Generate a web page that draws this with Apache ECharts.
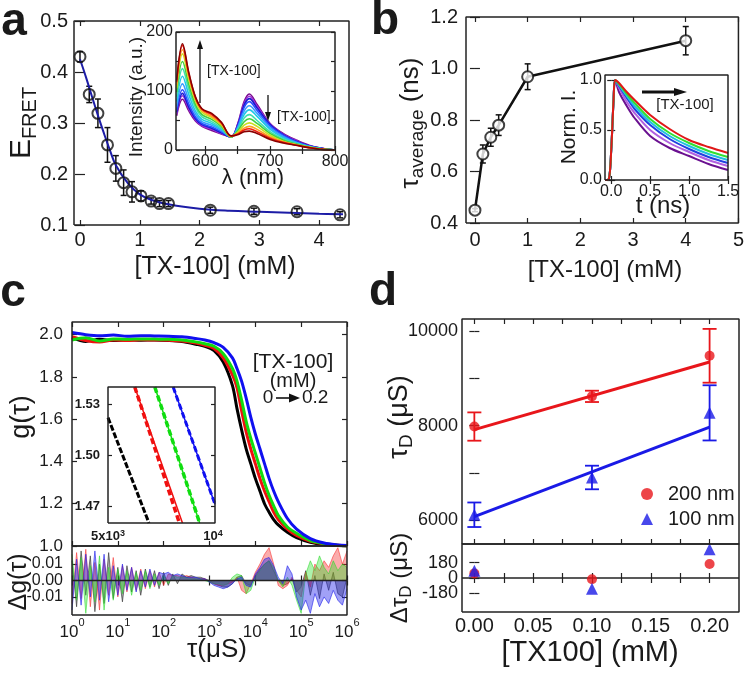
<!DOCTYPE html>
<html><head><meta charset="utf-8">
<script src="https://cdn.jsdelivr.net/npm/echarts@6/dist/echarts.min.js"></script>
<style>html,body{margin:0;padding:0;background:#fff}#c{width:747px;height:675px}</style>
</head><body><div id="c"></div><script>
// ---------------- Panel a ----------------
const aConc = [0,0.155,0.30,0.46,0.60,0.73,0.87,1.02,1.19,1.33,1.48,2.18,2.91,3.63,4.35];
const aEfret = [0.430,0.356,0.319,0.257,0.211,0.183,0.165,0.157,0.147,0.142,0.142,0.129,0.127,0.126,0.120];
const aErr = [0.010,0.016,0.028,0.034,0.025,0.025,0.020,0.010,0.006,0.006,0.006,0.006,0.006,0.006,0.006];
const aFitX = [0,0.1,0.2,0.3,0.4,0.5,0.6,0.8,1.0,1.2,1.5,2,2.5,3,3.5,4,4.4];
const aFitY = [0.425,0.39,0.352,0.315,0.28,0.247,0.217,0.182,0.160,0.149,0.140,0.132,0.128,0.126,0.124,0.122,0.121];
const aTicksX = [0,1,2,3,4];
const aTicksY = [0.1,0.2,0.3,0.4,0.5];
const specWl = [556,565,575,585,595,610,625,640,650,660,668,680,700,720,740,760,780,800];
const specPurple   = [58,86,66,49,40,33,27,22,44,82,95,77,45,28,17,8,3,0];
const specViolet   = [61,92,69,51,41,35,28,22,43,79,91,74,44,27,16,7,3,0];
const specDarkBlue = [64,96,72,53,43,37,29,22,42,76,87,71,43,26,15,7,3,0];
const specBlue     = [68,102,77,56,45,39,31,22,40,72,82,67,41,25,14,7,2,0];
const specSky      = [74,112,84,61,48,42,33,22,38,66,75,62,38,23,13,6,2,0];
const specCyan     = [82,125,93,66,52,45,35,22,36,60,68,57,35,21,12,6,2,0];
const specAqua     = [90,138,102,72,56,48,37,22,34,54,60,50,31,19,11,5,2,0];
const specGreen    = [98,150,110,77,60,52,40,22,32,48,53,45,28,17,10,5,2,0];
const specYellow   = [105,163,119,83,64,55,42,23,30,42,46,40,25,15,9,5,1,0];
const specOrange   = [110,170,124,86,67,57,44,23,28,37,40,35,22,14,9,4,1,0];
const specRed      = [115,177,128,89,69,60,46,24,27,34,36,31,20,13,8,4,1,0];
const specDarkRed  = [118,180,130,90,70,62,47,24,26,31,32,28,18,12,8,4,1,0];
const specSeries = [specPurple,specViolet,specDarkBlue,specBlue,specSky,specCyan,specAqua,specGreen,specYellow,specOrange,specRed,specDarkRed];
const specColors = ['#7a0a8c','#9b30d8','#1a1acc','#2a4cff','#3a9cff','#20c8e8','#40e0b0','#40d040','#c8e020','#ffa020','#f02010','#8a0000'];
// ---------------- Panel b ----------------
const bConc = [0,0.15,0.3,0.45,1,4];
const bTau = [0.450,0.668,0.733,0.780,0.968,1.108];
const bErr = [0.006,0.035,0.035,0.040,0.050,0.055];
const bTicksX = [0,1,2,3,4,5];
const bTicksY = [0.4,0.6,0.8,1.0,1.2];
const decayT = [-0.08,-0.03,0,0.03,0.05,0.1,0.2,0.3,0.5,0.75,1.0,1.25,1.5];
const decayPurple = [0,0.01,0.3,0.8,1.0,0.88,0.74,0.62,0.44,0.32,0.24,0.16,0.10];
const decayViolet = [0,0.01,0.3,0.8,1.0,0.92,0.78,0.67,0.50,0.37,0.28,0.20,0.14];
const decayBlue   = [0,0.01,0.3,0.8,1.0,0.94,0.82,0.71,0.55,0.41,0.31,0.23,0.17];
const decayCyan   = [0,0.01,0.3,0.8,1.0,0.95,0.84,0.74,0.58,0.44,0.34,0.26,0.20];
const decayGreen  = [0,0.01,0.3,0.8,1.0,0.96,0.86,0.77,0.61,0.47,0.37,0.29,0.23];
const decayRed    = [0,0.01,0.3,0.8,1.0,0.97,0.88,0.80,0.65,0.51,0.40,0.33,0.27];
const decaySeries = [decayPurple,decayViolet,decayBlue,decayCyan,decayGreen,decayRed];
const decayColors = ['#6a1090','#b060e0','#2040e0','#20c0e0','#30e030','#e01818'];
// ---------------- Panel c ----------------
const cTau = [1,2,4,8,16,32,63,126,251,501,794,1259,1995,3162,3981,5012,6310,7943,10000,12589,15849,19953,25119,31623,50119,79433,158489,316228,630957,1000000];
const cBlack = [1.985,1.968,1.978,1.972,1.976,1.974,1.975,1.973,1.968,1.955,1.945,1.925,1.87,1.76,1.65,1.55,1.46,1.39,1.32,1.26,1.20,1.16,1.125,1.10,1.065,1.04,1.018,1.007,1.002,1.0];
const cRed   = [1.99,1.972,1.965,1.975,1.972,1.976,1.975,1.974,1.97,1.96,1.95,1.935,1.89,1.81,1.75,1.64,1.54,1.46,1.39,1.32,1.26,1.21,1.16,1.125,1.08,1.05,1.022,1.01,1.004,1.0];
const cGreen = [1.975,1.985,1.97,1.98,1.978,1.98,1.979,1.978,1.975,1.966,1.957,1.945,1.91,1.84,1.78,1.69,1.59,1.51,1.44,1.37,1.30,1.24,1.19,1.145,1.09,1.06,1.026,1.012,1.004,1.0];
const cBlue  = [2.01,2.0,1.995,1.998,1.993,1.995,1.994,1.993,1.99,1.982,1.975,1.962,1.94,1.89,1.84,1.78,1.70,1.61,1.53,1.46,1.39,1.32,1.26,1.21,1.13,1.08,1.035,1.014,1.005,1.002];
const cTicksY = [1.0,1.2,1.4,1.6,1.8,2.0];
const ciBlackData = [[5000,1.522],[6520,1.46]];
const ciRedData   = [[5946,1.54],[7940,1.46]];
const ciRedFit    = [[5946,1.54],[8100,1.46]];
const ciGreenData = [[6771,1.54],[9055,1.46]];
const ciBlueData  = [[7627,1.54],[10000,1.471]];
const ciTicksY = [1.47,1.50,1.53];
const cResTau = [1,1.26,1.58,2,2.51,3.16,3.98,5.01,6.31,7.94,10,12.6,15.8,20,25.1,31.6,39.8,50.1,63.1,79.4,100,126,158,200,251,316,398,501,631,794,1000,1259,1585,1995,2512,3162,3981,5012,6310,7943,10000,12589,15849,19953,25119,31623,39811,50119,63096,79433,100000,125893,158489,199526,251189,316228,398107,501187,630957,794328,1000000];
const cResBlack = [0.012,-0.016,0.018,-0.009,0.015,-0.019,0.010,-0.014,0.017,-0.011, 0.008,-0.013,0.009,-0.007,0.006,-0.009,0.007,-0.004,0.006,-0.005, 0.005,-0.003,0.004,-0.002,0.004,0.002,0.003,0.002,0.002,0.001, 0.000,-0.002,-0.003,-0.004,-0.004,-0.002,0.002,0.003,-0.002,-0.003, 0.003,0.007,0.010,0.012,0.006,0.000,-0.003,-0.002,0.001,-0.007, -0.004,0.006,-0.009,0.003,-0.011,0.004,-0.006,0.005,-0.008,-0.010,0.002];
const cResRed = [-0.014,0.017,-0.011,0.019,-0.016,0.011,-0.018,0.013,-0.009,0.014, -0.010,0.009,-0.007,0.008,-0.006,0.007,-0.005,0.006,-0.004,0.005, -0.003,0.004,0.003,0.003,0.002,0.003,0.002,0.001,0.001,0.001, -0.001,-0.002,-0.003,-0.003,-0.002,-0.001,0.002,-0.006,-0.008,-0.002, 0.005,0.010,0.016,0.020,0.010,-0.003,-0.005,-0.003,0.002,-0.006, -0.010,0.005,-0.004,0.010,0.006,0.012,0.008,0.015,0.020,0.010,0.018];
const cResGreen = [0.016,-0.012,0.014,-0.020,0.009,-0.013,0.015,-0.018,0.008,-0.012, 0.007,-0.008,0.006,-0.009,0.005,-0.006,0.006,-0.005,0.004,-0.003, 0.003,-0.002,0.003,0.002,0.002,0.002,0.001,0.001,0.001,0.000, -0.001,-0.002,-0.002,-0.003,-0.002,0.002,0.004,0.003,-0.008,-0.006, 0.002,0.006,0.010,0.012,0.008,0.000,-0.004,0.002,-0.003,-0.012, -0.020,0.004,0.012,0.006,0.015,0.008,0.004,0.012,0.006,0.010,0.008];
const cResBlue = [-0.018,0.013,-0.015,0.016,-0.010,0.018,-0.012,0.016,-0.013,0.009, -0.009,0.010,-0.006,0.008,-0.007,0.006,-0.004,0.007,-0.003,0.005, 0.004,0.005,0.003,0.004,0.003,0.002,0.002,0.002,0.001,0.001, -0.001,-0.003,-0.004,-0.005,-0.004,-0.002,0.001,0.002,-0.003,-0.004, 0.004,0.008,0.013,0.014,0.009,0.002,-0.002,0.009,0.004,-0.010, -0.018,-0.012,-0.020,-0.008,-0.016,-0.010,-0.014,-0.006,-0.012,-0.015,-0.005];
const cResTicksY = [-0.01,0,0.01];
// ---------------- Panel d ----------------
const dConc = [0,0.1,0.2];
const d200 = [7980,8620,9480];
const d200Err = [300,120,570];
const d100 = [6110,6900,8270];
const d100Err = [260,250,585];
const d200FitX = [0,0.2], d200FitY = [7915,9347];
const d100FitX = [0,0.2], d100FitY = [6072,7966];
const d200Res = [54,-14,165];
const d100Res = [85,-125,337];
const dTicksX = [0,0.025,0.05,0.075,0.1,0.125,0.15,0.175,0.2];
const dLabelsX = [0,0.05,0.1,0.15,0.2];
const dTicksY = [6000,7000,8000,9000,10000];
const dLabelsY = [6000,8000,10000];
const dResTicks = [-180,0,180];
const dResLabelsOuter = [-180,180];
const dResLabelsZero = [0];

// ================= build =================
const FONT = '"Liberation Sans", Arial, Helvetica, sans-serif';
const TXT = '#1a1a1a';
const grids = [], xAxes = [], yAxes = [], series = [], graphics = [], panels = [];

function labelCfg(o, values) {
  const lab = {show: o.show !== false, fontSize: o.fs || 18, color: TXT, fontFamily: FONT, hideOverlap: false,
    margin: o.margin == null ? 6 : o.margin, fontWeight: o.fw || 'normal'};
  if (values) lab.customValues = values;
  lab.formatter = o.fmt || (v => String(v));
  if (o.rich) lab.rich = o.rich;
  return lab;
}
function axisPair(list, gi, o, mainPos, otherPos) {
  const idx = list.length;
  const common = {gridIndex: gi, type: o.type || 'value', min: o.min, max: o.max,
    splitLine: {show: false}, axisLine: {show: false}, silent: true};
  if (o.type === 'log') common.logBase = 10;
  const tick = {show: o.noTicks ? false : true, inside: true, length: o.tl || 5, lineStyle: {color: '#222', width: 1.2}};
  if (o.ticks) tick.customValues = o.ticks;
  list.push(Object.assign({}, common, {position: mainPos, axisTick: tick, axisLabel: labelCfg(o, o.labels)}));
  list.push(Object.assign({}, common, {position: otherPos, axisTick: Object.assign({}, tick), axisLabel: {show: false}}));
  if (o.labels2) {
    list.push(Object.assign({}, common, {position: mainPos, offset: 0, axisTick: {show: false}, axisLabel: labelCfg(o, o.labels2)}));
  }
  return idx;
}
function addPanel(r, xo, yo) {
  const gi = grids.length;
  grids.push({left: r[0], top: r[1], width: r[2], height: r[3], show: !!r[4],
    borderWidth: 0, backgroundColor: r[4] || 'transparent'});
  const P = {x: axisPair(xAxes, gi, xo, 'bottom', 'top'), y: axisPair(yAxes, gi, yo, 'left', 'right')};
  panels.push({r: r, xo: xo, yo: yo, P: P});
  return P;
}
function zip(xs, ys) { return xs.map((x, i) => [x, ys[i]]); }
function lineS(P, data, color, width, extra) {
  return Object.assign({type: 'line', xAxisIndex: P.x, yAxisIndex: P.y, data: data, symbol: 'none',
    lineStyle: {color: color, width: width}, itemStyle: {color: color}, silent: true, z: 3}, extra || {});
}
function errS(P, xs, ys, es, color, cap, w) {
  return {type: 'custom', xAxisIndex: P.x, yAxisIndex: P.y, z: 2, silent: true,
    data: xs.map((x, i) => [x, ys[i] - es[i], ys[i] + es[i]]),
    renderItem: function (params, api) {
      const lo = api.coord([api.value(0), api.value(1)]);
      const hi = api.coord([api.value(0), api.value(2)]);
      const st = {stroke: color, lineWidth: w || 1.5};
      return {type: 'group', children: [
        {type: 'line', shape: {x1: lo[0], y1: lo[1], x2: hi[0], y2: hi[1]}, style: st},
        {type: 'line', shape: {x1: lo[0] - cap, y1: lo[1], x2: lo[0] + cap, y2: lo[1]}, style: st},
        {type: 'line', shape: {x1: hi[0] - cap, y1: hi[1], x2: hi[0] + cap, y2: hi[1]}, style: st}]};
    }};
}
const f1 = v => v.toFixed(1), f2 = v => v.toFixed(2);
const logFmt = v => '{b|10}{s|' + Math.round(Math.log10(v)) + '}';
const logRich = {b: {fontSize: 17, lineHeight: 24, verticalAlign: 'bottom', fontFamily: FONT, color: TXT},
                 s: {fontSize: 11, lineHeight: 11, verticalAlign: 'top', fontFamily: FONT, color: TXT}};

const PA = addPanel([74, 21, 275, 204],
  {min: -0.1, max: 4.5, ticks: aTicksX, labels: aTicksX, fs: 20, margin: 5},
  {min: 0.1, max: 0.5, ticks: aTicksY, labels: aTicksY, fmt: f1, fs: 20, margin: 6});
series.push(errS(PA, aConc, aEfret, aErr, '#111', 3, 1.5));
series.push(lineS(PA, zip(aFitX, aFitY), '#1c1ca6', 2, {smooth: 0.4, z: 4}));
series.push({type: 'scatter', xAxisIndex: PA.x, yAxisIndex: PA.y, data: zip(aConc, aEfret), symbol: 'circle', symbolSize: 11,
  itemStyle: {color: 'rgba(0,0,0,0)', borderColor: '#111', borderWidth: 2}, z: 5, silent: true});
const PAi = addPanel([176, 32, 159, 118, '#fff'],
  {min: 555, max: 800, ticks: [600, 650, 700, 750, 800], labels: [600, 700, 800], fs: 16, margin: 4, tl: 4},
  {min: 0, max: 200, ticks: [0, 50, 100, 150, 200], labels: [0, 100, 200], fs: 16, margin: 3, tl: 4});
specSeries.forEach((s, i) => series.push(lineS(PAi, zip(specWl, s), specColors[i], 1.6, {smooth: 0.35, z: 3 + i * 0.01})));

const PB = addPanel([466, 17, 274, 206],
  {min: -0.17, max: 5, ticks: bTicksX, labels: bTicksX, fs: 20, margin: 7},
  {min: 0.4, max: 1.2, ticks: bTicksY, labels: bTicksY, fmt: f1, fs: 20, margin: 8});
series.push(lineS(PB, zip(bConc, bTau), '#111', 2.5, {z: 2}));
series.push(errS(PB, bConc, bTau, bErr, '#111', 3, 1.5));
series.push({type: 'scatter', xAxisIndex: PB.x, yAxisIndex: PB.y, data: zip(bConc, bTau), symbol: 'circle', symbolSize: 11,
  itemStyle: {color: '#fff', borderColor: '#111', borderWidth: 2}, z: 5, silent: true});
const PBi = addPanel([605, 75, 123, 105, '#fff'],
  {min: -0.08, max: 1.5, ticks: [0, 0.5, 1.0, 1.5], labels: [0, 0.5, 1.0, 1.5], fmt: f1, fs: 16, margin: 4, tl: 4},
  {min: 0, max: 1.05, ticks: [0, 0.5, 1.0], labels: [0, 0.5, 1.0], fmt: f1, fs: 16, margin: 3, tl: 4});
decaySeries.forEach((s, i) => series.push(lineS(PBi, zip(decayT, s), decayColors[i], 2, {smooth: 0.3, z: 3 + i * 0.01})));

const PC = addPanel([72, 322, 275, 224],
  {type: 'log', min: 1, max: 1e6, show: false},
  {min: 1.0, max: 2.06, ticks: cTicksY, labels: cTicksY, fmt: f1, fs: 17, margin: 9});
[[cBlack, '#000'], [cRed, '#f01010'], [cGreen, '#10dd10'], [cBlue, '#1010f0']].forEach((p, i) =>
  series.push(lineS(PC, zip(cTau, p[0]), p[1], 3, {smooth: 0.3, z: 3 + i * 0.01})));
const PCr = addPanel([72, 546, 275, 69],
  {type: 'log', min: 1, max: 1e6, fmt: logFmt, rich: logRich, margin: 2},
  {min: -0.021, max: 0.021, ticks: cResTicksY, labels: cResTicksY, fmt: f2, fs: 16, margin: 9});
[[cResBlack, 'rgba(30,30,30,0.55)'], [cResRed, 'rgba(245,40,40,0.55)'], [cResGreen, 'rgba(40,220,40,0.55)'], [cResBlue, 'rgba(30,30,235,0.6)']].forEach((p, i) =>
  series.push(lineS(PCr, zip(cResTau, p[0]), p[1], 1, {areaStyle: {color: p[1], origin: 0}, z: 3 + i * 0.01})));
series.push(lineS(PCr, [[1, 0], [1e6, 0]], '#222', 1.5, {z: 5}));
const PCi = addPanel([108, 387, 107, 136, '#fff'],
  {type: 'log', min: 5000, max: 10000, show: false, noTicks: true},
  {min: 1.46, max: 1.54, ticks: ciTicksY, labels: ciTicksY, fmt: f2, fs: 13, fw: 'bold', margin: 8, tl: 4});
series.push(lineS(PCi, ciBlackData, '#000', 3, {lineStyle: {color: '#000', width: 3, type: [6, 2]}}));
series.push(lineS(PCi, ciRedData, '#f01010', 3.5, {lineStyle: {color: '#f01010', width: 3.5, type: [6, 3]}}));
series.push(lineS(PCi, ciRedFit, '#f01010', 1.5));
series.push(lineS(PCi, ciGreenData, '#10dd10', 3.5, {lineStyle: {color: '#10dd10', width: 3.5, type: [6, 3]}}));
series.push(lineS(PCi, ciGreenData, '#10dd10', 1.5));
series.push(lineS(PCi, ciBlueData, '#1010f0', 3, {lineStyle: {color: '#1010f0', width: 3, type: [6, 3]}}));
series.push(lineS(PCi, ciBlueData, '#1010f0', 1.5));

const PD = addPanel([462, 319, 277, 225],
  {min: -0.0105, max: 0.225, ticks: dTicksX, show: false},
  {min: 5490, max: 10260, ticks: dTicksY, labels: dLabelsY, fs: 18, margin: 4});
series.push(lineS(PD, zip(d200FitX, d200FitY), '#e8161b', 3));
series.push(lineS(PD, zip(d100FitX, d100FitY), '#1a1ae6', 3));
series.push(errS(PD, dConc, d200, d200Err, '#e8161b', 7, 1.8));
series.push(errS(PD, dConc, d100, d100Err, '#1a1ae6', 7, 1.8));
series.push({type: 'scatter', name: '200 nm', xAxisIndex: PD.x, yAxisIndex: PD.y, data: zip(dConc, d200), symbol: 'circle', symbolSize: 10,
  itemStyle: {color: '#e8161b'}, z: 5, silent: true});
series.push({type: 'scatter', name: '100 nm', xAxisIndex: PD.x, yAxisIndex: PD.y, data: zip(dConc, d100), symbol: 'triangle', symbolSize: 12,
  itemStyle: {color: '#1a1ae6'}, z: 5, silent: true});
const PDr = addPanel([462, 544, 277, 68],
  {min: -0.0105, max: 0.225, ticks: dTicksX, labels: dLabelsX, fmt: f2, fs: 20, margin: 4},
  {min: -400, max: 400, ticks: dResTicks, labels: dResLabelsOuter, labels2: dResLabelsZero, fs: 18, margin: 4});
series.push(lineS(PDr, [[-0.0105, 0], [0.225, 0]], '#222', 1.5, {z: 2}));
series.push({type: 'scatter', name: '200 nm', xAxisIndex: PDr.x, yAxisIndex: PDr.y, data: zip(dConc, d200Res), symbol: 'circle', symbolSize: 10,
  itemStyle: {color: '#e8161b'}, z: 5, silent: true});
series.push({type: 'scatter', name: '100 nm', xAxisIndex: PDr.x, yAxisIndex: PDr.y, data: zip(dConc, d100Res), symbol: 'triangle', symbolSize: 12,
  itemStyle: {color: '#1a1ae6'}, z: 5, silent: true});

// ---- frames: closed polyline series through each panel's axis extremes (drawn by the library's own scales)
panels.forEach(pn => {
  const x0 = pn.xo.min, x1 = pn.xo.max, y0 = pn.yo.min, y1 = pn.yo.max;
  series.push({type: 'line', xAxisIndex: pn.P.x, yAxisIndex: pn.P.y, silent: true, clip: false, z: 30, symbol: 'none',
    data: [[x0, y0], [x1, y0], [x1, y1], [x0, y1], [x0, y0]],
    lineStyle: {color: '#222', width: 1.5}, itemStyle: {color: '#222'}});
});

// ---- text & annotations
function txt(x, y, text, fs, opt) {
  opt = opt || {};
  graphics.push({type: 'text', x: x, y: y, rotation: opt.rot || 0, silent: true, z: 100,
    style: {text: text, fontSize: fs, fontFamily: FONT, fontWeight: opt.fw || 'normal', fill: TXT,
      align: opt.align || 'center', verticalAlign: 'middle', rich: opt.rich}});
}
function arrow(x1, y1, x2, y2, w, hl, hw) {
  const dx = x2 - x1, dy = y2 - y1, L = Math.hypot(dx, dy), ux = dx / L, uy = dy / L;
  const bx = x2 - ux * hl, by = y2 - uy * hl;
  graphics.push({type: 'line', silent: true, z: 100, shape: {x1: x1, y1: y1, x2: bx, y2: by}, style: {stroke: '#111', lineWidth: w}});
  graphics.push({type: 'polygon', silent: true, z: 100, shape: {points: [[x2, y2], [bx - uy * hw, by + ux * hw], [bx + uy * hw, by - ux * hw]]}, style: {fill: '#111'}});
}
const R90 = Math.PI / 2;
txt(14, 22, 'a', 46, {fw: 'bold'});
txt(385, 21, 'b', 46, {fw: 'bold'});
txt(13, 293, 'c', 46, {fw: 'bold'});
txt(383, 292, 'd', 46, {fw: 'bold'});
txt(22, 123, '{b|E}{s|FRET}', 30, {rot: R90, rich: {b: {fontSize: 30, lineHeight: 36, fontFamily: FONT, color: TXT}, s: {fontSize: 20, lineHeight: 20, verticalAlign: 'bottom', fontFamily: FONT, color: TXT}}});
txt(215, 267, '[TX-100] (mM)', 25);
txt(137, 97, 'Intensity (a.u.)', 19, {rot: R90});
txt(253, 178, 'λ (nm)', 22);
arrow(200, 103, 200, 40, 1.3, 9, 3);
txt(207, 71, '[TX-100]', 14, {align: 'left'});
arrow(268, 95, 268, 121, 1.3, 9, 3);
txt(277, 117, '[TX-100]', 14, {align: 'left'});
txt(411, 123, '{b|τ}{s|average}{b| (ns)}', 26, {rot: R90, rich: {b: {fontSize: 26, lineHeight: 32, fontFamily: FONT, color: TXT}, s: {fontSize: 19, lineHeight: 19, verticalAlign: 'bottom', fontFamily: FONT, color: TXT}}});
txt(605, 270, '[TX-100] (mM)', 24);
txt(569, 127, 'Norm. I.', 21, {rot: R90});
txt(663, 206, 't (ns)', 24);
arrow(642, 92, 687, 92, 3, 13, 4);
txt(685, 105, '[TX-100]', 15);
txt(22, 417, 'g(τ)', 27, {rot: R90});
txt(19, 582, 'Δg(τ)', 25, {rot: R90});
txt(217, 650, 'τ(μS)', 26);
txt(293, 362, '[TX-100]', 21);
txt(293, 381, '(mM)', 20);
txt(268, 398, '0', 19);
arrow(276, 398, 300, 398, 1.6, 11, 4.5);
txt(302, 398, '0.2', 19, {align: 'left'});
txt(108, 536, '5x10{s|3}', 13, {fw: 'bold', rich: {s: {fontSize: 9, fontWeight: 'bold', verticalAlign: 'top', lineHeight: 9, fontFamily: FONT, color: TXT}}});
txt(213, 536, '10{s|4}', 13, {fw: 'bold', rich: {s: {fontSize: 9, fontWeight: 'bold', verticalAlign: 'top', lineHeight: 9, fontFamily: FONT, color: TXT}}});
txt(400, 417, '{b|τ}{s|D}{b| (μS)}', 27, {rot: R90, rich: {b: {fontSize: 27, lineHeight: 32, fontFamily: FONT, color: TXT}, s: {fontSize: 19, lineHeight: 19, verticalAlign: 'bottom', fontFamily: FONT, color: TXT}}});
txt(400, 578, '{b|Δτ}{s|D}{b| (μS)}', 24, {rot: R90, rich: {b: {fontSize: 24, lineHeight: 30, fontFamily: FONT, color: TXT}, s: {fontSize: 17, lineHeight: 17, verticalAlign: 'bottom', fontFamily: FONT, color: TXT}}});
txt(590, 653, '[TX100] (mM)', 29);

const chart = echarts.init(document.getElementById('c'), null, {renderer: 'canvas'});
chart.setOption({
  animation: false,
  backgroundColor: '#fff',
  textStyle: {fontFamily: FONT},
  grid: grids, xAxis: xAxes, yAxis: yAxes, series: series, graphic: graphics,
  legend: {data: [{name: '200 nm', icon: 'circle'}, {name: '100 nm', icon: 'triangle'}], orient: 'vertical',
    left: 636, top: 479, itemWidth: 12, itemHeight: 12, itemGap: 5, selectedMode: false,
    textStyle: {fontSize: 20, color: TXT, fontFamily: FONT, padding: [0, 0, 0, 10]}}
});
</script></body></html>
